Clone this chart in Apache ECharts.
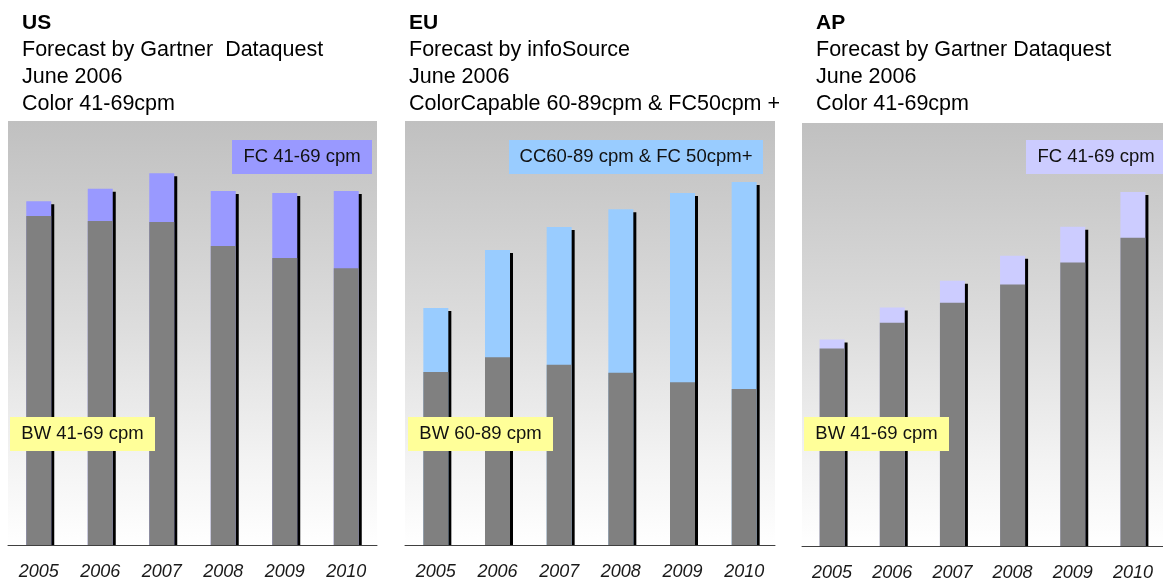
<!DOCTYPE html>
<html>
<head>
<meta charset="utf-8">
<script src="https://cdn.jsdelivr.net/npm/echarts@6/dist/echarts.min.js"></script>
<style>
  html, body { margin: 0; padding: 0; background: #fff; }
  #chart { width: 1163px; height: 582px; }
</style>
</head>
<body>
<div id="chart"></div>
<script>
const years = ["2005", "2006", "2007", "2008", "2009", "2010"];

// US - Gartner Dataquest
const usBW = [77.6, 76.4, 76.2, 70.5, 67.7, 65.3];
const usFC = [3.5, 7.6, 11.5, 13.0, 15.3, 18.2];

// EU - infoSource
const euBW = [40.8, 44.3, 42.5, 40.6, 38.4, 36.8];
const euCC = [15.1, 25.3, 32.5, 38.6, 44.6, 48.8];

// AP - Gartner Dataquest
const apBW = [46.7, 52.8, 57.5, 61.8, 67.0, 72.9];
const apFC = [2.1, 3.6, 5.2, 6.8, 8.5, 10.8];

const font = "Liberation Sans, Arial, sans-serif";

let chart = echarts.init(document.getElementById("chart"));

let bgFill = new echarts.graphic.LinearGradient(0, 0, 0, 1, [
  { offset: 0, color: "#c0c0c0" },
  { offset: 0.5, color: "#dedede" },
  { offset: 0.8, color: "#f3f3f3" },
  { offset: 1, color: "#ffffff" },
]);

let grids = [
  { left: 8, top: 121, width: 369, bottom: 37 },
  { left: 405, top: 121, width: 370, bottom: 37 },
  { left: 802, top: 123, width: 365, bottom: 35 },
].map(function (g) {
  return Object.assign(
    { show: true, backgroundColor: bgFill, borderWidth: 0 },
    g
  );
});

function xAxisFor(i) {
  return {
    type: "category",
    gridIndex: i,
    data: years,
    z: 10,
    axisLine: { lineStyle: { color: "#404040", width: 1 } },
    axisTick: { inside: true, length: 4, lineStyle: { color: "#404040" } },
    axisLabel: {
      color: "#1a1a1a",
      fontSize: 18,
      fontStyle: "italic",
      fontFamily: font,
      margin: 18,
    },
  };
}

function yAxisFor(i) {
  return { type: "value", gridIndex: i, min: 0, max: 100, show: false };
}

// the colour part is drawn as the full column (bw + colour) behind the grey part,
// so the black side shadow runs down in one piece
function barPair(i, bw, top, topColor) {
  let total = bw.map(function (v, k) {
    return +(v + top[k]).toFixed(1);
  });
  return [
    {
      type: "bar",
      xAxisIndex: i,
      yAxisIndex: i,
      data: total,
      barWidth: 25,
      barGap: "-100%",
      z: 2,
      itemStyle: {
        color: topColor,
        shadowColor: "#000",
        shadowBlur: 0,
        shadowOffsetX: 3,
        shadowOffsetY: 3,
      },
    },
    {
      type: "bar",
      xAxisIndex: i,
      yAxisIndex: i,
      data: bw,
      barWidth: 25,
      barGap: "-100%",
      z: 3,
      itemStyle: { color: "#808080" },
    },
  ];
}

function titleFor(left, head, lines) {
  return {
    text: head,
    subtext: lines.join("\n"),
    left: left,
    top: 10,
    padding: 0,
    itemGap: 0,
    textStyle: {
      fontSize: 21,
      fontWeight: "bold",
      color: "#000",
      lineHeight: 27,
      fontFamily: font,
    },
    subtextStyle: {
      fontSize: 21.5,
      color: "#000",
      lineHeight: 27,
      fontFamily: font,
    },
  };
}

function box(x, y, w, text, color) {
  return {
    type: "group",
    left: x,
    top: y,
    z: 100,
    children: [
      { type: "rect", z: 100, shape: { x: 0, y: 0, width: w, height: 34 }, style: { fill: color } },
      {
        type: "text",
        z: 101,
        x: w / 2,
        y: 17,
        style: {
          text: text,
          fill: "#111",
          font: "18.5px " + font,
          align: "center",
          verticalAlign: "middle",
        },
      },
    ],
  };
}

// white strip under each axis line (drawn above the bars, below the axis),
// so the dropped shadow stops at the axis
function cover(x, y, w) {
  return {
    type: "rect",
    z: 5,
    silent: true,
    shape: { x: x, y: y, width: w, height: 6 },
    style: { fill: "#fff" },
  };
}

let option = {
  animation: false,
  title: [
    titleFor(22, "US", ["Forecast by Gartner  Dataquest", "June 2006", "Color 41-69cpm"]),
    titleFor(409, "EU", ["Forecast by infoSource", "June 2006", "ColorCapable 60-89cpm & FC50cpm +"]),
    titleFor(816, "AP", ["Forecast by Gartner Dataquest", "June 2006", "Color 41-69cpm"]),
  ],
  grid: grids,
  xAxis: [xAxisFor(0), xAxisFor(1), xAxisFor(2)],
  yAxis: [yAxisFor(0), yAxisFor(1), yAxisFor(2)],
  series: [].concat(
    barPair(0, usBW, usFC, "#9999ff"),
    barPair(1, euBW, euCC, "#99ccff"),
    barPair(2, apBW, apFC, "#ccccff")
  ),
  graphic: [
    cover(8, 545, 370),
    cover(405, 545, 371),
    cover(802, 547, 361),
    box(232, 140, 140, "FC 41-69 cpm", "#9999ff"),
    box(10, 417, 145, "BW 41-69 cpm", "#ffff99"),
    box(509, 140, 254, "CC60-89 cpm & FC 50cpm+", "#99ccff"),
    box(408, 417, 145, "BW 60-89 cpm", "#ffff99"),
    box(1026, 140, 140, "FC 41-69 cpm", "#ccccff"),
    box(804, 417, 145, "BW 41-69 cpm", "#ffff99"),
  ],
};

chart.setOption(option);
</script>
</body>
</html>
